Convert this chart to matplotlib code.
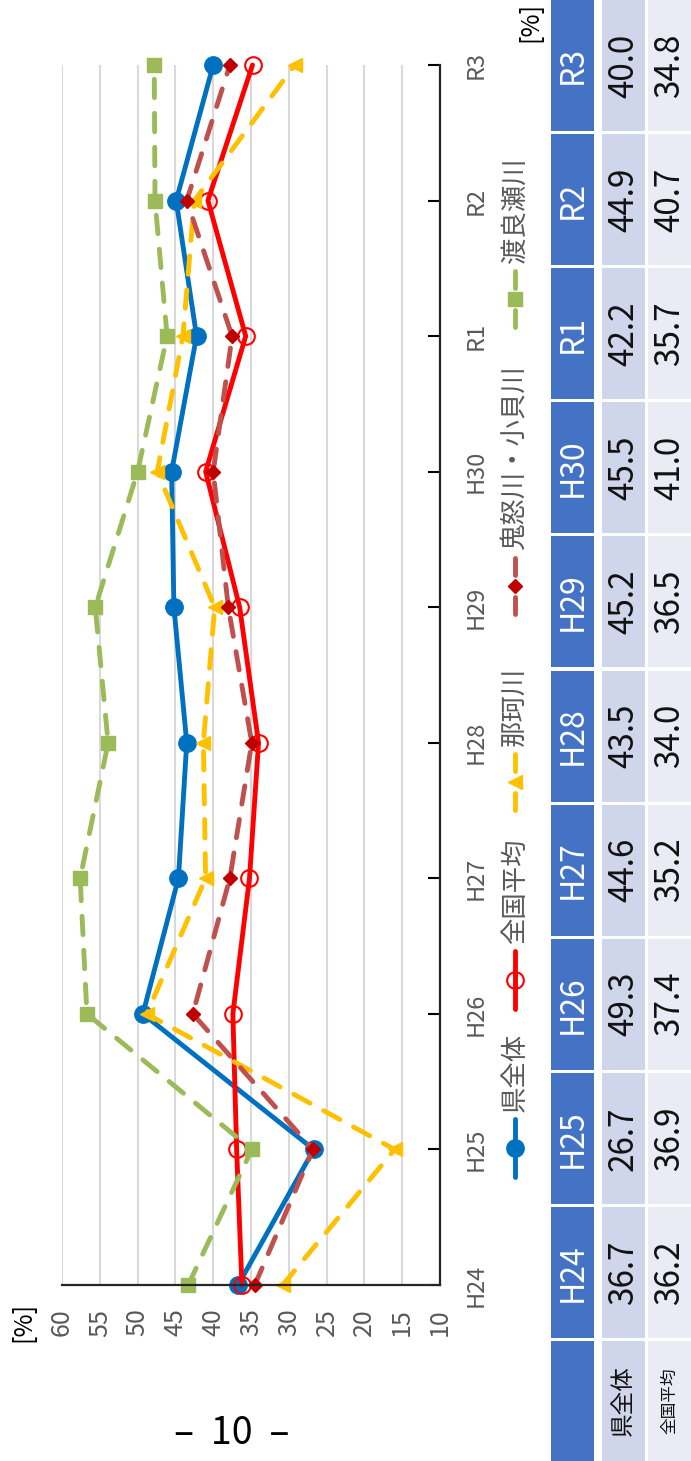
import matplotlib
matplotlib.use('Agg')
import matplotlib.pyplot as plt
from matplotlib.patches import Rectangle

plt.rcParams['font.family'] = ['Noto Sans CJK JP', 'DejaVu Sans']

# data
years = ['H24', 'H25', 'H26', 'H27', 'H28', 'H29', 'H30', 'R1', 'R2', 'R3']
ken_zentai = [36.7, 26.7, 49.3, 44.6, 43.5, 45.2, 45.5, 42.2, 44.9, 40.0]
zenkoku = [36.2, 36.9, 37.4, 35.2, 34.0, 36.5, 41.0, 35.7, 40.7, 34.8]
nakagawa = [30.8, 16.0, 48.8, 41.0, 41.3, 39.8, 47.4, 44.0, 42.5, 29.2]
kinugawa = [34.5, 26.8, 42.7, 37.8, 34.9, 38.0, 40.0, 37.5, 43.5, 37.8]
watarase = [43.3, 34.9, 56.7, 57.6, 53.9, 55.6, 50.0, 46.1, 47.7, 47.8]
series_names = ['県全体', '全国平均', '那珂川', '鬼怒川・小貝川', '渡良瀬川']
value_ticks = [10, 15, 20, 25, 30, 35, 40, 45, 50, 55, 60]
table_labels = ['県全体', '全国平均']

W, H = 691, 1461
fig = plt.figure(figsize=(W / 100, H / 100), dpi=100)

# chart area in pixels (the whole chart is turned 90 degrees)
x0, x1, y0, y1 = 62, 440, 65, 1285
ax = fig.add_axes([x0 / W, 1 - y1 / H, (x1 - x0) / W, (y1 - y0) / H])

styles = [
    dict(color='#0070C0', marker='o', ms=12.5, ls='-'),
    dict(color='#FF0000', marker='o', ms=12, ls='-', mfc='none', mec='#FF0000', mew=1.5),
    dict(color='#FFC000', marker='<', ms=9.5, ls='--', mfc='#FFC000', mec='#FFC000'),
    dict(color='#C0504D', marker='D', ms=7, ls='--', mfc='#C00000', mec='#C00000'),
    dict(color='#9BBB59', marker='s', ms=9.5, ls='--', mfc='#9BBB59', mec='#9BBB59'),
]
all_series = [ken_zentai, zenkoku, nakagawa, kinugawa, watarase]
pos = list(range(len(years)))

for vals, st in zip(all_series, styles):
    kw = dict(st)
    ls = kw.pop('ls')
    line, = ax.plot(vals, pos, lw=3.5, solid_capstyle='round', solid_joinstyle='round',
                    clip_on=False, **kw)
    if ls == '--':
        line.set_dashes((3.8, 3.2))
        line.set_dash_capstyle('round')

ax.set_xlim(60, 10)
ax.set_ylim(0, len(years) - 1)
ax.set_xticks(value_ticks)
ax.set_xticklabels([str(v) for v in value_ticks], rotation=90)
ax.tick_params(axis='x', length=0, pad=17, labelsize=18, labelcolor='#595959')
ax.yaxis.tick_right()
ax.set_yticks(pos)
ax.set_yticklabels(years, rotation=90, va='center')
ax.tick_params(axis='y', direction='in', length=9, width=1.5, pad=18, labelsize=17,
               labelcolor='#595959')
ax.grid(axis='x', color='#D9D9D9', lw=1.5)
ax.set_axisbelow(True)
for s in ['left', 'top']:
    ax.spines[s].set_visible(False)
for s in ['bottom', 'right']:
    ax.spines[s].set_color('#262626')
    ax.spines[s].set_linewidth(1.6)

# overlay in pixel coordinates for legend, table and labels
ov = fig.add_axes([0, 0, 1, 1], zorder=5)
ov.set_xlim(0, W)
ov.set_ylim(H, 0)
ov.axis('off')

ov.text(23, 1322, '[%]', rotation=90, ha='center', va='center', fontsize=18)
ov.text(530, 22, '[%]', rotation=90, ha='center', va='center', fontsize=18)
ov.text(232, 1433, '–  10  –', ha='center', va='center', fontsize=27)

# legend drawn by hand, turned like the chart
leg_y = [1148, 980, 782, 586, 299]
for name, st, ly in zip(series_names, styles, leg_y):
    kw = dict(st)
    ls = kw.pop('ls')
    col = kw.pop('color')
    if ls == '-':
        ov.plot([515, 515], [ly - 29, ly + 29], color=col, lw=3.5, solid_capstyle='round')
    else:
        ov.plot([515, 515], [ly - 28, ly - 11], color=col, lw=3.5, solid_capstyle='round')
        ov.plot([515, 515], [ly + 11, ly + 28], color=col, lw=3.5, solid_capstyle='round')
    ov.plot([515], [ly], color=col, ls='none', **kw)
    ov.text(515, ly - 36, name, rotation=90, rotation_mode='anchor', ha='left',
            va='center', fontsize=19, color='#595959')

# data table, turned
step = 134.1
cell_h = 131
cols = [(551, 594, '#4472C4'), (602, 645, '#CFD5EA'), (648, 691, '#E9EBF5')]
n = len(years)
for i, yr in enumerate(years):
    top = (n - 1 - i) * step
    for (cx0, cx1, fc) in cols:
        ov.add_patch(Rectangle((cx0, top), cx1 - cx0, cell_h, color=fc, lw=0))
    cy = top + cell_h / 2
    ov.text((cols[0][0] + cols[0][1]) / 2, cy, yr, rotation=90, ha='center', va='center',
            fontsize=23, color='white')
    ov.text((cols[1][0] + cols[1][1]) / 2, cy, f'{ken_zentai[i]:.1f}', rotation=90,
            ha='center', va='center', fontsize=24, color='#111111')
    ov.text((cols[2][0] + cols[2][1]) / 2, cy, f'{zenkoku[i]:.1f}', rotation=90,
            ha='center', va='center', fontsize=24, color='#111111')

top = n * step
for (cx0, cx1, fc) in cols:
    ov.add_patch(Rectangle((cx0, top), cx1 - cx0, H - top + 5, color=fc, lw=0))
ov.text((cols[1][0] + cols[1][1]) / 2, top + 60, table_labels[0], rotation=90,
        ha='center', va='center', fontsize=17, color='#111111')
ov.text((cols[2][0] + cols[2][1]) / 2, top + 60, table_labels[1], rotation=90,
        ha='center', va='center', fontsize=12, color='#111111')

fig.savefig('out.png', dpi=100)
